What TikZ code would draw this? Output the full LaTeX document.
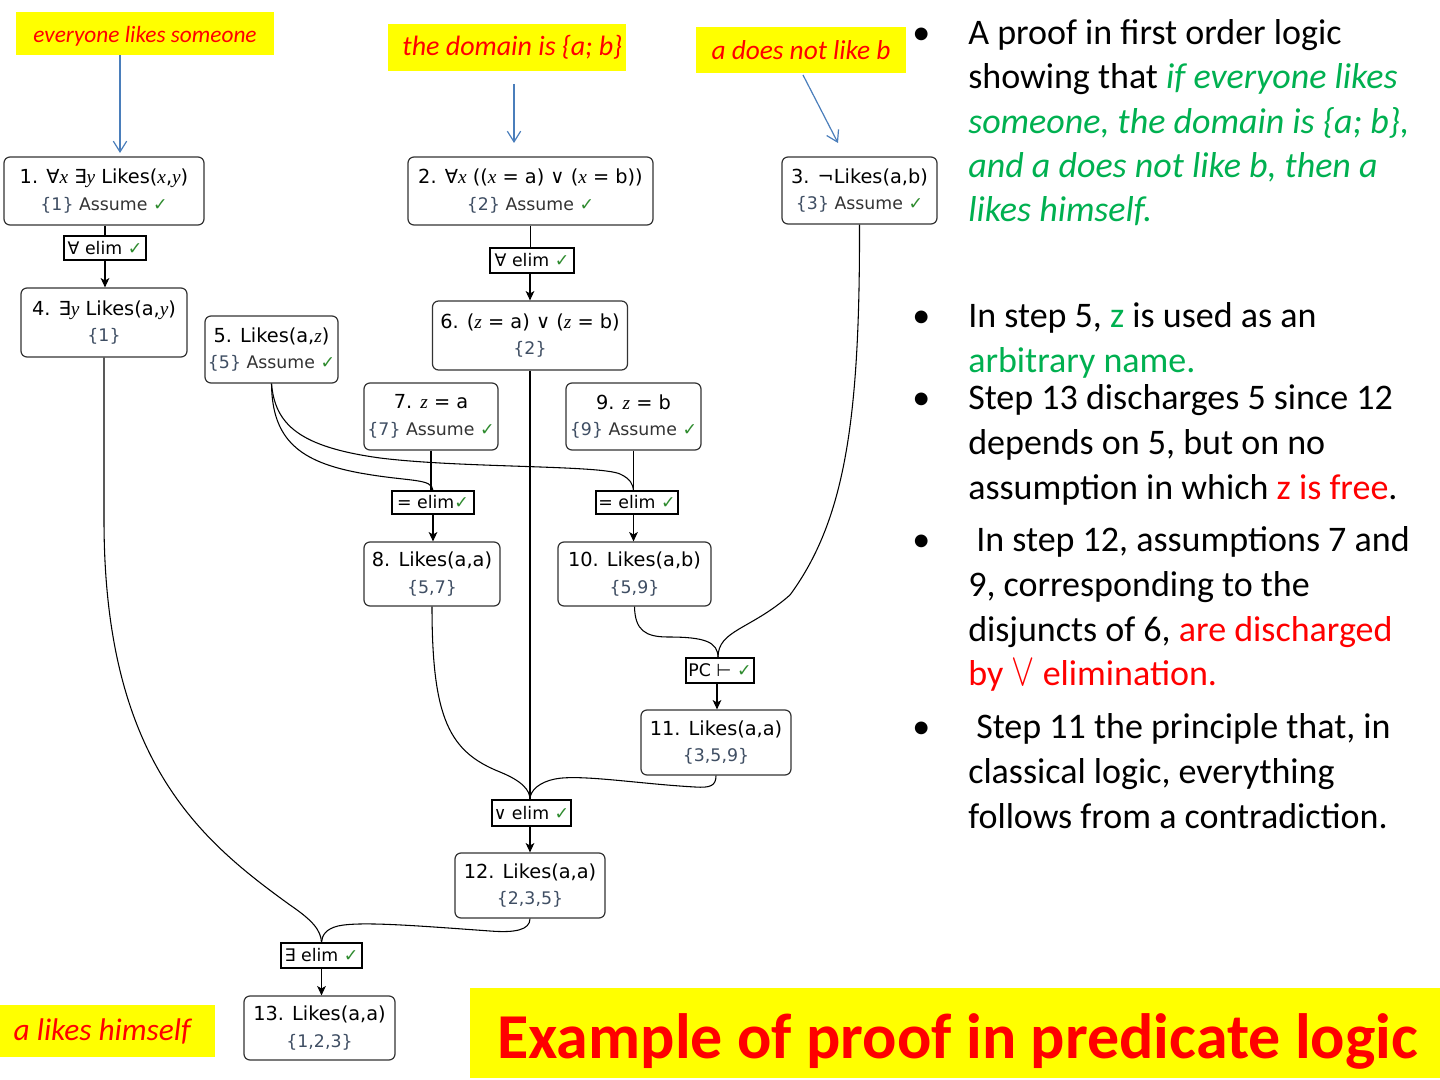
\documentclass[tikz,border=0pt]{standalone}
\usepackage{fontspec}
\usepackage{graphicx}
\setmainfont{Carlito}
\newfontfamily\nf{DejaVu Sans}
\newfontfamily\vf{Liberation Serif}
\usetikzlibrary{arrows.meta}
\definecolor{ylw}{HTML}{FFFF00}
\definecolor{grn}{HTML}{00B050}
\definecolor{chk}{HTML}{2E8B2E}
\definecolor{setc}{HTML}{3F4E63}
\definecolor{arrblue}{HTML}{4A7EBB}
\definecolor{brd}{HTML}{333333}
\newcommand{\vv}[1]{{\vf\itshape #1}}
\newcommand{\ck}{{\color{chk}\bfseries ✓}}
\newcommand{\st}[1]{{\color{setc}#1}}
\newcommand{\lineb}[1]{{\fontsize{13}{16}\selectfont\color{brd}#1}}
\tikzset{
  pn/.style={draw=brd, line width=0.9pt, rounded corners=4.5pt, fill=white, align=center,
    inner sep=1pt, font=\nf\fontsize{14.5}{20}\selectfont},
  rb/.style={draw=black, line width=0.8pt, fill=white, inner sep=1pt,
    font=\nf\fontsize{13}{15}\selectfont},
  lbl/.style={fill=ylw, text=red, inner sep=0pt},
  ed/.style={draw=black, line width=0.8pt},
  ar/.style={ed, -{Stealth[length=7pt,width=6.5pt,inset=1.8pt]}},
  ba/.style={draw=arrblue, line width=0.9pt, -{Straight Barb[length=8pt,width=10pt]}},
  bt/.style={anchor=base west, inner sep=0pt, font=\fontsize{27}{33}\selectfont},
}
\begin{document}
\begin{tikzpicture}[x=0.75pt,y=-0.75pt]
\useasboundingbox (0,0) rectangle (1440,1080);

% yellow labels
\node[lbl, minimum width=193.5pt, minimum height=32.25pt, font=\itshape\fontsize{17.5}{20}\selectfont] (L1) at (145,33.5) {\raisebox{-2pt}[\height][\depth]{everyone likes someone}};
\node[lbl, minimum width=178.5pt, minimum height=35.25pt, font=\itshape\fontsize{21}{24}\selectfont] (L2) at (507,47.5) {\hspace*{8pt}the domain is \{a; b\}};
\node[lbl, minimum width=157.5pt, minimum height=34.5pt, font=\itshape\fontsize{20.5}{24}\selectfont] (L3) at (801,50) {a does not like b};
\node[lbl, minimum width=161.25pt, minimum height=39pt, font=\itshape\fontsize{23.5}{27}\selectfont] (L4) at (107.5,1031) {a likes himself\hspace*{8pt}};
\node[lbl, minimum width=727.5pt, minimum height=67.5pt, font=\bfseries\fontsize{48}{56}\selectfont] (T) at (955,1033) {\hspace*{4pt}\raisebox{-6pt}[\height][\depth]{Example of proof in predicate logic}};

% proof nodes
\node[pn, minimum width=150pt, minimum height=51pt] (n1) at (104,191) {1. ∀\vv{x} ∃\vv{y} Likes(\vv{x},\vv{y})\\ \lineb{\st{\{1\}} Assume \ck}};
\node[rb, minimum width=61.5pt, minimum height=18pt] (r1) at (105,248) {∀ elim \ck};
\node[pn, minimum width=124.5pt, minimum height=51.75pt] (n4) at (104,322.5) {4. ∃\vv{y} Likes(a,\vv{y})\\ \lineb{\st{\{1\}}}};
\node[pn, minimum width=183.75pt, minimum height=51pt] (n2) at (530.5,191) {2. ∀\vv{x} ((\vv{x} = a) ∨ (\vv{x} = b))\\ \lineb{\st{\{2\}} Assume \ck}};
\node[rb, minimum width=63pt, minimum height=18.75pt] (r2) at (532,260.5) {∀ elim \ck};
\node[pn, minimum width=146.25pt, minimum height=51.75pt] (n6) at (530,335.5) {6. (\vv{z} = a) ∨ (\vv{z} = b)\\ \lineb{\st{\{2\}}}};
\node[pn, minimum width=116.25pt, minimum height=50.25pt] (n3) at (859.5,190.5) {3. ¬Likes(a,b)\\ \lineb{\st{\{3\}} Assume \ck}};
\node[pn, minimum width=99.75pt, minimum height=50.25pt] (n5) at (271.5,349.5) {5. Likes(a,\vv{z})\\ \lineb{\st{\{5\}} Assume \ck}};
\node[pn, minimum width=100.5pt, minimum height=50.25pt] (n7) at (431,416.5) {7. \vv{z} = a\\ \lineb{\st{\{7\}} Assume \ck}};
\node[pn, minimum width=101.25pt, minimum height=50.25pt] (n9) at (633.5,416.5) {9. \vv{z} = b\\ \lineb{\st{\{9\}} Assume \ck}};
\node[rb, minimum width=61.5pt, minimum height=17.25pt] (r7) at (433,502.5) {= elim\ck};
\node[rb, minimum width=61.5pt, minimum height=17.25pt] (r9) at (637,502.5) {= elim \ck};
\node[pn, minimum width=102pt, minimum height=48pt] (n8) at (432,574) {8. Likes(a,a)\\ \lineb{\st{\{5,7\}}}};
\node[pn, minimum width=114.75pt, minimum height=48pt] (n10) at (634.5,574) {10. Likes(a,b)\\ \lineb{\st{\{5,9\}}}};
\node[rb, minimum width=51pt, minimum height=18.75pt] (rpc) at (720,670.5) {PC ⊢ \ck};
\node[pn, minimum width=112.5pt, minimum height=48.75pt] (n11) at (716,742.5) {11. Likes(a,a)\\ \lineb{\st{\{3,5,9\}}}};
\node[rb, minimum width=59.25pt, minimum height=19.5pt] (rv) at (531.5,813) {∨ elim \ck};
\node[pn, minimum width=112.5pt, minimum height=48.75pt] (n12) at (530,885.5) {12. Likes(a,a)\\ \lineb{\st{\{2,3,5\}}}};
\node[rb, minimum width=60.75pt, minimum height=18.75pt] (re) at (321.5,955.5) {∃ elim \ck};
\node[pn, minimum width=113.25pt, minimum height=48pt] (n13) at (319.5,1028) {13. Likes(a,a)\\ \lineb{\st{\{1,2,3\}}}};

% straight connectors
\draw[ed] (n1.south -| r1.north) -- (r1.north);
\draw[ar] (r1.south) -- (r1.south |- n4.north);
\draw[ed] (n2.south) -- (n2.south |- r2.north);
\draw[ar] (r2.south -| n6.north) -- (n6.north);
\draw[ed] (n6.south) -- (n6.south |- rv.north);
\draw[ar] (rv.south -| n12.north) -- (n12.north);
\draw[ed] (n7.south) -- (n7.south |- r7.north);
\draw[ar] (r7.south) -- (r7.south |- n8.north);
\draw[ed] (n9.south) -- (n9.south |- r9.north);
\draw[ar] (r9.south -| n9.south) -- (n10.north -| n9.south);
\draw[ar] (rpc.south -| 717,0) -- (n11.north -| 717,0);
\draw[ar] (re.south) -- (re.south |- n13.north);

% curved connectors
\draw[ed] (n4.south) -- (104,520) .. controls (104,760) and (200,840) .. (290,905) .. controls (312,920) and (321,930) .. (re.north);
\draw[ed] (n12.south) .. controls (530,930) and (515,933) .. (490,931) .. controls (420,926) and (360,921) .. (338,926) .. controls (326,929) and (322,935) .. (re.north);
\draw[ed] (n8.south) .. controls (432,720) and (450,752) .. (500,772) .. controls (522,781) and (530,790) .. (rv.north -| n6.south);
\draw[ed] (n11.south) .. controls (716,786) and (710,788) .. (695,787) .. controls (640,784) and (580,774) .. (555,779) .. controls (540,782) and (530,790) .. (rv.north -| n6.south);
\draw[ed] (n5.south) .. controls (272,440) and (300,462) .. (360,473) .. controls (410,482) and (432,478) .. (r7.north);
\draw[ed] (n5.south) .. controls (275,425) and (300,447) .. (380,458) .. controls (460,468) and (600,465) .. (620,474) .. controls (631,479) and (633,485) .. (r9.north -| n9.south);
\draw[ed] (n10.south) .. controls (635,630) and (645,637) .. (668,637) .. controls (705,637) and (718,642) .. (rpc.north -| 718,0);
\draw[ed] (n3.south) .. controls (860,420) and (845,520) .. (790,595) .. controls (750,630) and (718,630) .. (rpc.north -| 718,0);

% blue arrows
\coordinate (a1) at (120,153);
\draw[ba] (L1.south -| a1) -- (a1);
\coordinate (a2s) at (514,84);
\coordinate (a2) at (514,143);
\draw[ba] (a2s) -- (a2);
\coordinate (a3s) at (803,75);
\coordinate (a3) at (838,143);
\draw[ba] (a3s) -- (a3);

% bullet text
\node[bt] (u1) at (912,45) {•};
\node[bt] (t11) at (968,45) {A proof in first order logic};
\node[bt] (t12) at (968,89) {showing that \textcolor{grn}{\itshape if everyone likes}};
\node[bt] (t13) at (968,133.5) {\textcolor{grn}{\itshape someone, the domain is \{a; b\},}};
\node[bt] (t14) at (968,178) {\textcolor{grn}{\itshape and a does not like b, then a}};
\node[bt] (t15) at (968,222) {\textcolor{grn}{\itshape likes himself.}};

\node[bt] (u2) at (912,328) {•};
\node[bt] (t21) at (968,328) {In step 5, \textcolor{grn}{z} is used as an};
\node[bt] (t22) at (968,373) {\textcolor{grn}{arbitrary name.}};

\node[bt] (u3) at (912,410) {•};
\node[bt] (t31) at (968,410) {Step 13 discharges 5 since 12};
\node[bt] (t32) at (968,455) {depends on 5, but on no};
\node[bt] (t33) at (968,500) {assumption in which \textcolor{red}{z is free}.};

\node[bt] (u4) at (912,552) {•};
\node[bt] (t41) at (976,552) {In step 12, assumptions 7 and};
\node[bt] (t42) at (968,597) {9, corresponding to the};
\node[bt] (t43) at (968,642) {disjuncts of 6, \textcolor{red}{are discharged}};
\node[bt] (t44) at (968,685) {\textcolor{red}{by \smash{\scalebox{1.05}[1.4]{$\vee$}} elimination.}};

\node[bt] (u5) at (912,738.5) {•};
\node[bt] (t51) at (976,738.5) {Step 11 the principle that, in};
\node[bt] (t52) at (968,783.5) {classical logic, everything};
\node[bt] (t53) at (968,828.5) {follows from a contradiction.};
\end{tikzpicture}
\end{document}
